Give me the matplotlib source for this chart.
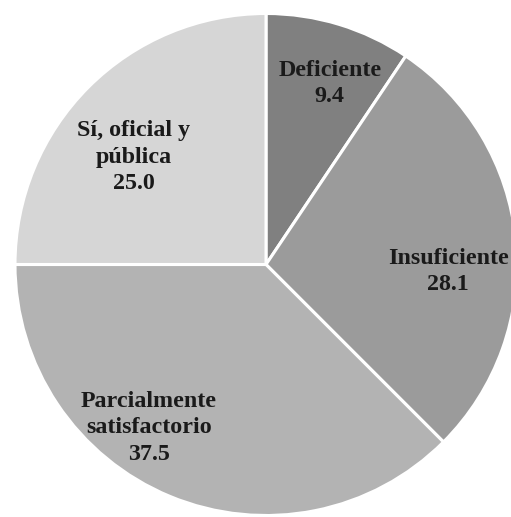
import matplotlib
matplotlib.use("Agg")
import matplotlib.pyplot as plt
import numpy as np

categories = ["Deficiente", "Insuficiente", "Parcialmente\nsatisfactorio", "Sí, oficial y\npública"]
values = [9.4, 28.1, 37.5, 25.0]
colors = ["#808080", "#9b9b9b", "#b3b3b3", "#d6d6d6"]

# label placement: (angle in degrees, fraction of radius)
label_pos = [(70.6, 0.765), (-2.2, 0.727), (234.4, 0.800), (140.9, 0.678)]

W, H = 511, 517
fig = plt.figure(figsize=(W / 100, H / 100), dpi=100)
ax = fig.add_axes([0, 0, 1, 1])

cx, cy, R = 266, H - 264.5, 251
ax.pie(values, colors=colors, startangle=90, counterclock=False,
       center=(cx, cy), radius=R, frame=True,
       wedgeprops=dict(edgecolor="white", linewidth=2.2))
ax.set_xlim(0, W)
ax.set_ylim(0, H)
ax.set_aspect("equal")
ax.axis("off")

for cat, val, (ang, fr) in zip(categories, values, label_pos):
    a = np.deg2rad(ang)
    x = cx + fr * R * np.cos(a)
    y = cy + fr * R * np.sin(a)
    ax.text(x, y, f"{cat}\n{val:.1f}", ha="center", va="center",
            fontsize=17.3, fontweight="bold", family="Liberation Serif",
            color="#1a1a1a", linespacing=1.35)

fig.savefig("out.png", dpi=100)
